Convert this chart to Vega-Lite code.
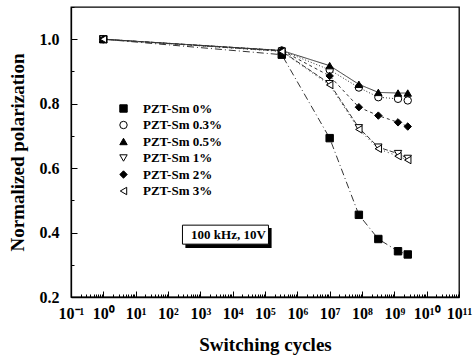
{
  "$schema": "https://vega.github.io/schema/vega-lite/v6.json",
  "width": 388,
  "height": 290,
  "autosize": {"type": "none"},
  "padding": {"left": 71, "top": 7, "right": 14, "bottom": 66},
  "config": {
    "view": {"stroke": "black", "strokeWidth": 1.3},
    "font": "Liberation Serif",
    "axis": {
      "domainColor": "black",
      "domainWidth": 1.3,
      "tickColor": "black",
      "grid": false,
      "labelFont": "Liberation Serif",
      "labelFontWeight": "bold",
      "labelColor": "black",
      "titleFont": "Liberation Serif",
      "titleFontWeight": "bold",
      "titleColor": "black"
    },
    "legend": {
      "title": null,
      "labelFont": "Liberation Serif",
      "labelFontWeight": "bold",
      "labelFontSize": 13,
      "labelColor": "black",
      "labelOffset": 13,
      "rowPadding": 2.5,
      "symbolSize": 55,
      "symbolStrokeColor": "black",
      "symbolStrokeWidth": 1
    }
  },
  "datasets": {
    "pts": [
      {"series": "PZT-Sm 0%", "cycles": 1, "p": 1.0},
      {"series": "PZT-Sm 0%", "cycles": 330000, "p": 0.952},
      {"series": "PZT-Sm 0%", "cycles": 10000000, "p": 0.693},
      {"series": "PZT-Sm 0%", "cycles": 80000000, "p": 0.455},
      {"series": "PZT-Sm 0%", "cycles": 320000000, "p": 0.38},
      {"series": "PZT-Sm 0%", "cycles": 1300000000, "p": 0.342},
      {"series": "PZT-Sm 0%", "cycles": 2600000000, "p": 0.332},
      {"series": "PZT-Sm 0.3%", "cycles": 1, "p": 1.0},
      {"series": "PZT-Sm 0.3%", "cycles": 330000, "p": 0.965},
      {"series": "PZT-Sm 0.3%", "cycles": 10000000, "p": 0.905},
      {"series": "PZT-Sm 0.3%", "cycles": 80000000, "p": 0.85},
      {"series": "PZT-Sm 0.3%", "cycles": 320000000, "p": 0.82},
      {"series": "PZT-Sm 0.3%", "cycles": 1300000000, "p": 0.815},
      {"series": "PZT-Sm 0.3%", "cycles": 2600000000, "p": 0.81},
      {"series": "PZT-Sm 0.5%", "cycles": 1, "p": 1.0},
      {"series": "PZT-Sm 0.5%", "cycles": 330000, "p": 0.965},
      {"series": "PZT-Sm 0.5%", "cycles": 10000000, "p": 0.918},
      {"series": "PZT-Sm 0.5%", "cycles": 80000000, "p": 0.86},
      {"series": "PZT-Sm 0.5%", "cycles": 320000000, "p": 0.835},
      {"series": "PZT-Sm 0.5%", "cycles": 1300000000, "p": 0.833},
      {"series": "PZT-Sm 0.5%", "cycles": 2600000000, "p": 0.833},
      {"series": "PZT-Sm 1%", "cycles": 1, "p": 1.0},
      {"series": "PZT-Sm 1%", "cycles": 330000, "p": 0.963},
      {"series": "PZT-Sm 1%", "cycles": 10000000, "p": 0.862},
      {"series": "PZT-Sm 1%", "cycles": 80000000, "p": 0.725},
      {"series": "PZT-Sm 1%", "cycles": 320000000, "p": 0.665},
      {"series": "PZT-Sm 1%", "cycles": 1300000000, "p": 0.645},
      {"series": "PZT-Sm 1%", "cycles": 2600000000, "p": 0.63},
      {"series": "PZT-Sm 2%", "cycles": 1, "p": 1.0},
      {"series": "PZT-Sm 2%", "cycles": 330000, "p": 0.965},
      {"series": "PZT-Sm 2%", "cycles": 10000000, "p": 0.886},
      {"series": "PZT-Sm 2%", "cycles": 80000000, "p": 0.789},
      {"series": "PZT-Sm 2%", "cycles": 320000000, "p": 0.763},
      {"series": "PZT-Sm 2%", "cycles": 1300000000, "p": 0.742},
      {"series": "PZT-Sm 2%", "cycles": 2600000000, "p": 0.729},
      {"series": "PZT-Sm 3%", "cycles": 1, "p": 1.0},
      {"series": "PZT-Sm 3%", "cycles": 330000, "p": 0.962},
      {"series": "PZT-Sm 3%", "cycles": 10000000, "p": 0.858},
      {"series": "PZT-Sm 3%", "cycles": 80000000, "p": 0.72},
      {"series": "PZT-Sm 3%", "cycles": 320000000, "p": 0.66},
      {"series": "PZT-Sm 3%", "cycles": 1300000000, "p": 0.637},
      {"series": "PZT-Sm 3%", "cycles": 2600000000, "p": 0.625}
    ],
    "box": [
      {"x1": 280, "x2": 128000, "y1": 0.364, "y2": 0.423, "dx1": 345, "dx2": 160000, "dy1": 0.352, "dy2": 0.414, "tx": 7400, "ty": 0.392, "label": "100 kHz, 10V"}
    ]
  },
  "resolve": {"axis": {"x": "independent", "y": "independent"}},
  "layer": [
    {
      "data": {"name": "pts"},
      "mark": {"type": "line", "strokeWidth": 1, "color": "#333"},
      "encoding": {
        "x": {
          "field": "cycles", "type": "quantitative",
          "scale": {"type": "log", "domain": [0.1, 100000000000], "nice": false},
          "axis": {
            "orient": "bottom",
            "title": "Switching cycles",
            "titleFontSize": 19,
            "titlePadding": 14,
            "labelFontSize": 16,
            "labelPadding": 14,
            "labelOverlap": false,
            "labelBound": false,
            "labelFlush": false,
            "tickSize": -6,
            "values": [0.1,1,10,100,1000,10000,100000,1000000,10000000,100000000,1000000000,10000000000,100000000000],
            "labelExpr": "'10' + (round(log(datum.value)/LN10) < 0 ? '⁻' : '') + (abs(round(log(datum.value)/LN10)) >= 10 ? '¹' : '') + substring('⁰¹²³⁴⁵⁶⁷⁸⁹', abs(round(log(datum.value)/LN10)) % 10, abs(round(log(datum.value)/LN10)) % 10 + 1)"
          }
        },
        "y": {
          "field": "p", "type": "quantitative",
          "scale": {"domain": [0.2, 1.1], "nice": false, "zero": false},
          "axis": {
            "orient": "left",
            "title": "Normalized polarization",
            "titleFontSize": 19,
            "titlePadding": 12,
            "labelFontSize": 16,
            "labelPadding": 18,
            "tickSize": -6,
            "values": [0.2,0.4,0.6,0.8,1.0],
            "format": ".1f"
          }
        },
        "detail": {"field": "series"},
        "strokeDash": {
          "condition": [
            {"test": "datum.series === 'PZT-Sm 0%'", "value": [7, 3, 1, 3]},
            {"test": "datum.series === 'PZT-Sm 0.3%'", "value": [1, 2]},
            {"test": "datum.series === 'PZT-Sm 0.5%'", "value": [1, 0]},
            {"test": "datum.series === 'PZT-Sm 1%'", "value": [5, 2]},
            {"test": "datum.series === 'PZT-Sm 2%'", "value": [3, 3]}
          ],
          "value": [1, 3]
        }
      }
    },
    {
      "data": {"name": "pts"},
      "mark": {"type": "point", "filled": true, "strokeWidth": 1, "opacity": 1, "size": 55},
      "encoding": {
        "x": {
          "field": "cycles", "type": "quantitative",
          "scale": {"type": "log", "domain": [0.1, 100000000000], "nice": false},
          "axis": {
            "orient": "bottom", "title": null, "labels": false, "domain": false, "tickSize": -3,
            "values": [0.2,0.3,0.4,0.5,0.6,0.7,0.8,0.9,2,3,4,5,6,7,8,9,20,30,40,50,60,70,80,90,200,300,400,500,600,700,800,900,2000,3000,4000,5000,6000,7000,8000,9000,20000,30000,40000,50000,60000,70000,80000,90000,200000,300000,400000,500000,600000,700000,800000,900000,2000000,3000000,4000000,5000000,6000000,7000000,8000000,9000000,20000000,30000000,40000000,50000000,60000000,70000000,80000000,90000000,200000000,300000000,400000000,500000000,600000000,700000000,800000000,900000000,2000000000,3000000000,4000000000,5000000000,6000000000,7000000000,8000000000,9000000000,20000000000,30000000000,40000000000,50000000000,60000000000,70000000000,80000000000,90000000000]
          }
        },
        "y": {
          "field": "p", "type": "quantitative",
          "scale": {"domain": [0.2, 1.1], "nice": false, "zero": false},
          "axis": {
            "orient": "left", "title": null, "labels": false, "domain": false, "tickSize": -3,
            "values": [0.3,0.5,0.7,0.9,1.1]
          }
        },
        "shape": {
          "field": "series", "type": "nominal",
          "scale": {
            "domain": ["PZT-Sm 0%", "PZT-Sm 0.3%", "PZT-Sm 0.5%", "PZT-Sm 1%", "PZT-Sm 2%", "PZT-Sm 3%"],
            "range": ["square", "circle", "triangle-up", "triangle-down", "diamond", "triangle-left"]
          },
          "legend": {"orient": "none", "legendX": 46, "legendY": 95}
        },
        "fill": {
          "field": "series", "type": "nominal",
          "scale": {
            "domain": ["PZT-Sm 0%", "PZT-Sm 0.3%", "PZT-Sm 0.5%", "PZT-Sm 1%", "PZT-Sm 2%", "PZT-Sm 3%"],
            "range": ["black", "white", "black", "white", "black", "white"]
          },
          "legend": {"orient": "none", "legendX": 46, "legendY": 95}
        },
        "stroke": {
          "field": "series", "type": "nominal",
          "scale": {
            "domain": ["PZT-Sm 0%", "PZT-Sm 0.3%", "PZT-Sm 0.5%", "PZT-Sm 1%", "PZT-Sm 2%", "PZT-Sm 3%"],
            "range": ["black", "black", "black", "black", "black", "black"]
          },
          "legend": {"orient": "none", "legendX": 46, "legendY": 95}
        }
      }
    },
    {
      "data": {"name": "box"},
      "mark": {"type": "rect", "fill": "black"},
      "encoding": {
        "x": {"field": "dx1", "type": "quantitative", "axis": null},
        "x2": {"field": "dx2"},
        "y": {"field": "dy1", "type": "quantitative", "axis": null},
        "y2": {"field": "dy2"}
      }
    },
    {
      "data": {"name": "box"},
      "mark": {"type": "rect", "fill": "white", "stroke": "black", "strokeWidth": 1},
      "encoding": {
        "x": {"field": "x1", "type": "quantitative", "axis": null},
        "x2": {"field": "x2"},
        "y": {"field": "y1", "type": "quantitative", "axis": null},
        "y2": {"field": "y2"}
      }
    },
    {
      "data": {"name": "box"},
      "mark": {"type": "text", "font": "Liberation Serif", "fontWeight": "bold", "fontSize": 13, "color": "black", "align": "center", "baseline": "middle"},
      "encoding": {
        "x": {"field": "tx", "type": "quantitative", "axis": null},
        "y": {"field": "ty", "type": "quantitative", "axis": null},
        "text": {"field": "label"}
      }
    }
  ]
}
